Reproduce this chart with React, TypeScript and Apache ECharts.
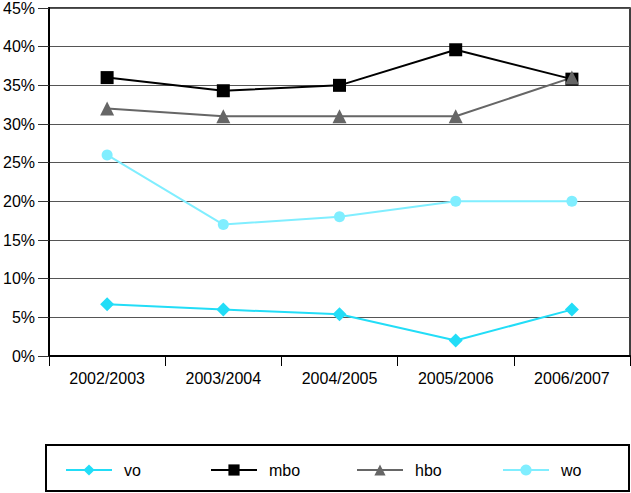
import React, { useEffect, useRef } from "react";
import * as echarts from "echarts";

const categories = ["2002/2003", "2003/2004", "2004/2005", "2005/2006", "2006/2007"];
const voValues = [6.7, 6.0, 5.4, 2.0, 6.0];
const mboValues = [36.0, 34.3, 35.0, 39.6, 35.8];
const hboValues = [32.0, 31.0, 31.0, 31.0, 36.0];
const woValues = [26.0, 17.0, 18.0, 20.0, 20.0];

const FONT = "Liberation Sans, Arial, sans-serif";

export default function App() {
  const ref = useRef<HTMLDivElement>(null);
  useEffect(() => {
    if (!ref.current) return;
    const chart = echarts.init(ref.current, null, { renderer: "svg" });
    const mkSeries = (name: string, data: number[], color: string, symbol: string, size: number, width: number) => ({
      name,
      type: "line",
      data,
      symbol,
      symbolSize: size,
      itemStyle: { color },
      lineStyle: { color, width },
    });
    const mkLegend = (name: string, left: number) => ({
      data: [name],
      left,
      top: 462,
      itemWidth: 46,
      itemHeight: 14,
      itemGap: 10,
      padding: 0,
      textStyle: { fontFamily: FONT, fontSize: 16, color: "#000", padding: [0, 0, 0, 7] },
      selectedMode: false,
    });
    chart.setOption({
      animation: false,
      backgroundColor: "#fff",
      grid: { left: 47, right: 1, top: 6, bottom: 137, show: true, borderColor: "#000", borderWidth: 1.5 },
      xAxis: {
        type: "category",
        data: categories,
        boundaryGap: true,
        axisLine: { lineStyle: { color: "#000", width: 2 } },
        axisTick: { show: true, length: 10, interval: 0, lineStyle: { color: "#000", width: 1 } },
        axisLabel: { fontFamily: FONT, fontSize: 16, color: "#000", margin: 14, interval: 0 },
      },
      yAxis: {
        type: "value",
        min: 0,
        max: 45,
        interval: 5,
        axisLine: { show: true, lineStyle: { color: "#000", width: 2 } },
        axisTick: { show: true, length: 11, lineStyle: { color: "#333", width: 1 } },
        axisLabel: { fontFamily: FONT, fontSize: 16, color: "#000", formatter: "{value}%", margin: 14 },
        splitLine: { lineStyle: { color: "#555", width: 1 } },
      },
      legend: [mkLegend("vo", 65), mkLegend("mbo", 210), mkLegend("hbo", 356), mkLegend("wo", 502)],
      graphic: [
        {
          type: "rect",
          shape: { x: 46, y: 445, width: 583, height: 46 },
          style: { fill: "none", stroke: "#000", lineWidth: 2 },
          silent: true,
        },
      ],
      series: [
        mkSeries("vo", voValues, "#22DDF7", "diamond", 14, 2),
        mkSeries("mbo", mboValues, "#000000", "rect", 13, 2),
        mkSeries("hbo", hboValues, "#666666", "triangle", 14, 2),
        mkSeries("wo", woValues, "#80EEFF", "circle", 11, 2),
      ],
    });
    return () => chart.dispose();
  }, []);
  return (
    <div
      ref={ref}
      style={{ position: "fixed", left: 0, top: 0, width: 631, height: 493, background: "#fff" }}
    />
  );
}
